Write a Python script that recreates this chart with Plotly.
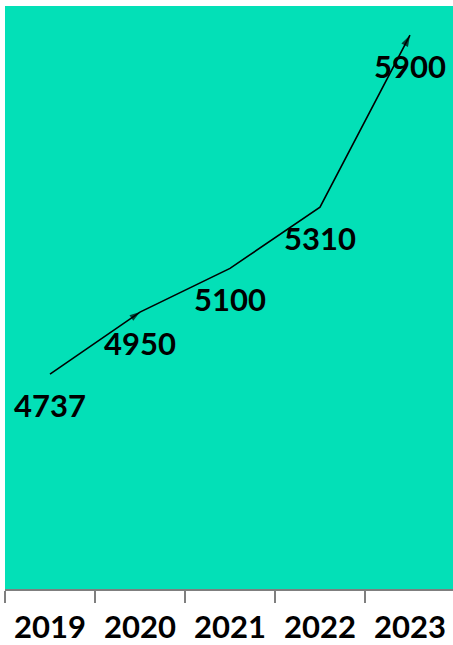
import plotly.graph_objects as go

# Yearly values
years = ["2019", "2020", "2021", "2022", "2023"]
values = [4737, 4950, 5100, 5310, 5900]

# Arrowheads on the 2020 and 2023 points only
symbols = ["circle", "arrow", "circle", "circle", "arrow"]
sizes = [0, 11, 0, 0, 12]

fig = go.Figure()
fig.add_trace(go.Scatter(
    x=years,
    y=values,
    mode="lines+markers",
    line=dict(color="black", width=1.6, backoff=0),
    marker=dict(symbol=symbols, size=sizes, color="black", angleref="previous",
                line=dict(width=0)),
    hoverinfo="skip",
    showlegend=False,
))

label_font = dict(family="Lato, 'Open Sans', sans-serif", size=31, color="black", weight="bold")
# value labels sit just under each point (x given as category index)
for i, v in enumerate(values):
    fig.add_annotation(x=i, y=v, xref="x", yref="y", text=str(v), showarrow=False,
                       yshift=-31, font=label_font)

fig.update_layout(
    width=453,
    height=645,
    margin=dict(l=5, r=0, t=6, b=56, autoexpand=False),
    paper_bgcolor="white",
    plot_bgcolor="#03E0B7",
    xaxis=dict(
        type="category",
        range=[-0.5, 4.478],
        tickson="boundaries",
        ticks="outside",
        ticklen=12,
        tickwidth=1.5,
        tickcolor="#7f7f7f",
        showline=True,
        linecolor="#7f7f7f",
        linewidth=2,
        showgrid=False,
        zeroline=False,
        tickfont=label_font,
        ticklabelstandoff=10,
        automargin=False,
    ),
    yaxis=dict(
        range=[4000, 6000],
        visible=False,
        showgrid=False,
        zeroline=False,
        automargin=False,
    ),
)

fig.write_html("out.html")
